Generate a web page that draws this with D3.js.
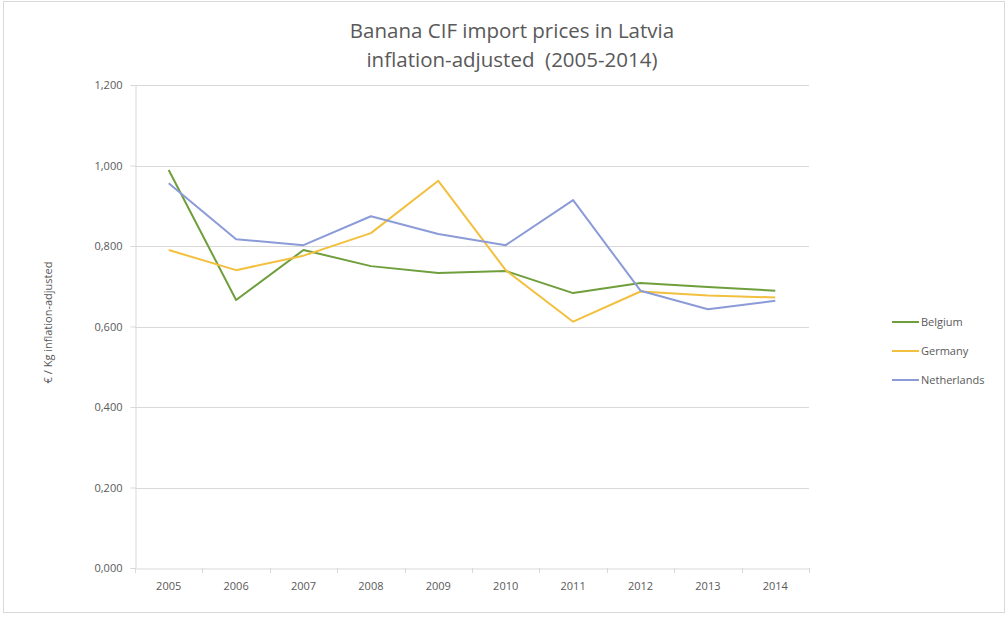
<!DOCTYPE html>
<html><head><meta charset="utf-8">
<script src="https://cdn.jsdelivr.net/npm/d3@7"></script>
<style>body{margin:0;background:#fff;} text{font-family:"Open Sans","Noto Sans",sans-serif;}</style>
</head><body><svg id="c" width="1007" height="623"></svg>
<script>
const years = ["2005","2006","2007","2008","2009","2010","2011","2012","2013","2014"];
const belgium = [0.989,0.666,0.790,0.750,0.733,0.738,0.683,0.708,0.698,0.689];
const germany = [0.790,0.740,0.776,0.832,0.962,0.740,0.612,0.687,0.677,0.672];
const netherlands = [0.956,0.817,0.802,0.874,0.830,0.802,0.914,0.689,0.643,0.664];
const yTicks = [0,0.2,0.4,0.6,0.8,1.0,1.2];
const seriesNames = ["Belgium","Germany","Netherlands"];
const colors = ["#6f9e3c","#f2c03e","#8b9bd8"];
const series = [belgium, germany, netherlands];

const svg = d3.select("#c");
svg.append("rect").attr("x",3.5).attr("y",1.5).attr("width",1001).attr("height",611)
  .attr("fill","#fff").attr("stroke","#d9d9d9");

const L=135,R=809,T=85,B=568;
const x = d3.scaleBand().domain(years).range([L,R]);
const y = d3.scaleLinear().domain([0,1.2]).range([B,T]);
const fmtLabel = v => { const s = d3.format(".3f")(v); const [a,b] = s.split("."); return a+","+b; };

// gridlines
svg.append("g").selectAll("line").data(yTicks.slice(1)).join("line")
  .attr("x1",L).attr("x2",R).attr("y1",d=>Math.round(y(d))+0.5).attr("y2",d=>Math.round(y(d))+0.5)
  .attr("stroke","#d9d9d9").attr("stroke-width",1);

// y axis
const ya = svg.append("g").attr("transform",`translate(${L+0.5},0)`)
  .call(d3.axisLeft(y).tickValues(yTicks).tickFormat(fmtLabel).tickSize(5).tickPadding(8));
ya.select(".domain").attr("stroke","#d9d9d9");
ya.selectAll(".tick line").attr("stroke","#d9d9d9");
ya.selectAll("text").attr("fill","#595959").style("font-size","11px");

// x axis
const xa = svg.append("g").attr("transform",`translate(0,${B+0.5})`)
  .call(d3.axisBottom(x).tickSize(0).tickPadding(14));
xa.select(".domain").attr("stroke","#d9d9d9");
xa.selectAll("text").attr("fill","#595959").style("font-size","11px");
svg.append("g").selectAll("line").data(d3.range(years.length+1)).join("line")
  .attr("x1",i=>Math.round(L+i*x.step())+0.5).attr("x2",i=>Math.round(L+i*x.step())+0.5)
  .attr("y1",B).attr("y2",B+5).attr("stroke","#d9d9d9");

// lines
const line = d3.line().x((d,i)=>x(years[i])+x.bandwidth()/2).y(d=>y(d));
series.forEach((s,k)=>{
  svg.append("path").datum(s).attr("d",line).attr("fill","none")
    .attr("stroke",colors[k]).attr("stroke-width",2).attr("stroke-linejoin","round");
});

// title
svg.append("text").attr("x",512).attr("y",38).attr("text-anchor","middle")
  .attr("fill","#595959").style("font-size","20.5px").text("Banana CIF import prices in Latvia");
svg.append("text").attr("x",512).attr("y",67).attr("text-anchor","middle")
  .attr("fill","#595959").style("font-size","20.5px").style("white-space","pre")
  .text("inflation-adjusted  (2005-2014)");

// y axis title
svg.append("text").attr("transform",`translate(52,${(T+B)/2 - 4}) rotate(-90)`)
  .attr("text-anchor","middle").attr("fill","#595959").style("font-size","11px")
  .text("€ / Kg inflation-adjusted");

// legend
const lg = svg.append("g");
seriesNames.forEach((n,k)=>{
  const yy = 322 + k*29;
  lg.append("line").attr("x1",892).attr("x2",919).attr("y1",yy).attr("y2",yy)
    .attr("stroke",colors[k]).attr("stroke-width",2);
  lg.append("text").attr("x",921).attr("y",yy+4).attr("fill","#595959")
    .style("font-size","11px").text(n);
});
</script></body></html>
